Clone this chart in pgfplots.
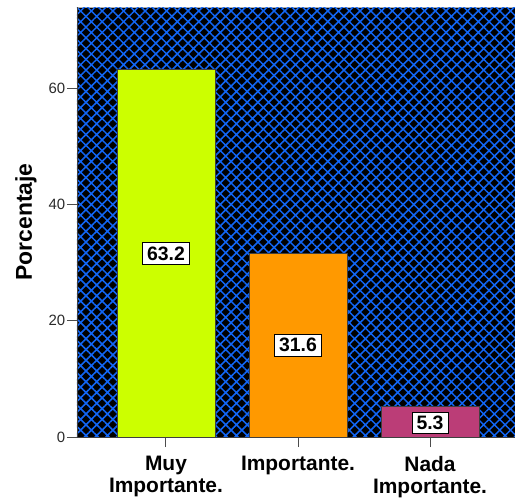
\documentclass[border=0pt]{standalone}
\usepackage{fontspec}
\setmainfont{Liberation Sans}
\usepackage{pgfplots}
\pgfplotsset{compat=1.18}
\usetikzlibrary{patterns.meta}
\definecolor{hatchblue}{HTML}{1266F5}
\definecolor{barlime}{HTML}{CCFF00}
\definecolor{barorange}{HTML}{FF9900}
\definecolor{barpink}{HTML}{BB3D77}
\definecolor{ticktext}{HTML}{2A2A2A}
\begin{document}
\begin{tikzpicture}
\begin{axis}[
  scale only axis, width=442bp, height=430bp,
  at={(0,0)}, anchor=south west,
  xmin=-0.674, xmax=2.674, ymin=0, ymax=74,
  xtick={0,1,2},
  xticklabels={{Muy\\Importante.},{Importante.},{Nada\\Importante.}},
  ytick={0,20,40,60},
  tick pos=left, tick align=outside, major tick length=10bp,
  tick style={black!70, line width=1pt},
  axis x line*=bottom, axis y line*=left,
  axis line style={draw=black!75, line width=1pt},
  axis background/.style={fill=black, draw=gray!60, line width=1pt,
     postaction={pattern={Hatch[angle=45,distance=7.6bp,line width=1.5bp]}, pattern color=hatchblue}},
  /pgf/number format/assume math mode=true,
  yticklabel style={font=\fontsize{15}{17}\selectfont, text=ticktext, inner sep=1.5bp},
  xticklabel style={font=\bfseries\fontsize{21}{22}\selectfont, align=center, inner sep=2bp, yshift=-7bp},
  ylabel={Porcentaje},
  ylabel style={font=\bfseries\fontsize{23}{26}\selectfont, at={(axis description cs:-0.1154,0.5)}, anchor=center},
  clip=false,
]
\addplot[ybar, bar shift=0pt, bar width=0.742, fill=barlime, draw=black!75, line width=0.8pt] coordinates {(0,63.2)};
\addplot[ybar, bar shift=0pt, bar width=0.742, fill=barorange, draw=black!75, line width=0.8pt] coordinates {(1,31.6)};
\addplot[ybar, bar shift=0pt, bar width=0.742, fill=barpink, draw=black!75, line width=0.8pt] coordinates {(2,5.3)};
\addplot[draw=none, mark=none, nodes near coords, point meta=explicit symbolic,
  every node near coord/.style={anchor=center, fill=white, draw=black, line width=1pt,
    font=\bfseries\fontsize{19.5}{21}\selectfont, inner xsep=4.5bp, inner ysep=4bp, text=black}]
  coordinates {(0,31.6) [63.2] (1,15.8) [31.6] (2,2.4) [5.3]};
\end{axis}
\pgfresetboundingbox
\useasboundingbox (-77bp,-63bp) rectangle (438bp,437bp);
\end{tikzpicture}
\end{document}
